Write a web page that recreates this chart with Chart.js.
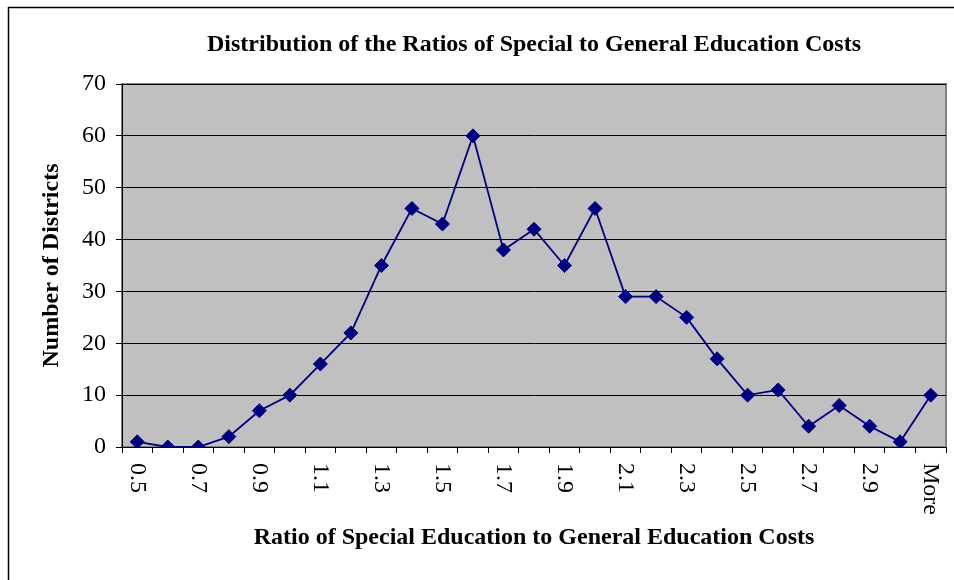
<!DOCTYPE html>
<html>
<head>
<meta charset="utf-8">
<title>Distribution of the Ratios of Special to General Education Costs</title>
<script src="https://cdn.jsdelivr.net/npm/chart.js@4/dist/chart.umd.min.js"></script>
<style>
  html, body { margin: 0; padding: 0; background: #fff; }
  #wrap { width: 954px; height: 580px; }
</style>
</head>
<body>
<div id="wrap"><canvas id="distChart" width="954" height="580"></canvas></div>
<script>
// -------------------------------
// DATA
// -------------------------------
const categories = ["0.5", "0.6", "0.7", "0.8", "0.9", "1.0", "1.1", "1.2", "1.3",
  "1.4", "1.5", "1.6", "1.7", "1.8", "1.9", "2.0", "2.1", "2.2", "2.3", "2.4",
  "2.5", "2.6", "2.7", "2.8", "2.9", "3.0", "More"];
const districtCounts = [1, 0, 0, 2, 7, 10, 16, 22, 35, 46, 43, 60, 38, 42, 35, 46,
  29, 29, 25, 17, 10, 11, 4, 8, 4, 1, 10];
// Excel only labels every other bin
const tickLabels = ["0.5", "", "0.7", "", "0.9", "", "1.1", "", "1.3", "", "1.5", "",
  "1.7", "", "1.9", "", "2.1", "", "2.3", "", "2.5", "", "2.7", "", "2.9", "", "More"];
const yTicks = [0, 10, 20, 30, 40, 50, 60, 70];

const serif = "'Liberation Serif', 'Times New Roman', serif";

// -------------------------------
// PLUGINS
// -------------------------------
// gray plot area + outer frame
const plotFrame = {
  id: "plotFrame",
  beforeDraw(chart) {
    const { ctx, chartArea: a } = chart;
    ctx.save();
    ctx.fillStyle = "#fff";
    ctx.fillRect(0, 0, chart.width, chart.height);
    ctx.strokeStyle = "#000";
    ctx.lineWidth = 1.5;
    ctx.strokeRect(8.5, 7.5, 1000, 1000);
    ctx.fillStyle = "#c0c0c0";
    ctx.fillRect(a.left, a.top, a.right - a.left, a.bottom - a.top);
    ctx.strokeStyle = "#808080";
    ctx.lineWidth = 2;
    ctx.strokeRect(a.left, a.top, a.right - a.left, a.bottom - a.top);
    ctx.restore();
  },
};

// x labels read top-to-bottom like the Excel original
const verticalLabels = {
  id: "verticalLabels",
  afterDraw(chart) {
    const { ctx } = chart;
    const xs = chart.scales.x;
    ctx.save();
    ctx.font = "24px " + serif;
    ctx.fillStyle = "#000";
    ctx.textAlign = "left";
    ctx.textBaseline = "middle";
    tickLabels.forEach((lab, i) => {
      if (!lab) return;
      ctx.save();
      ctx.translate(xs.getPixelForValue(i), xs.top + 16);
      ctx.rotate(Math.PI / 2);
      ctx.fillText(lab, 0, 0);
      ctx.restore();
    });
    ctx.restore();
  },
};

// -------------------------------
// CHART
// -------------------------------
const chart = new Chart(document.getElementById("distChart"), {
  type: "line",
  data: {
    labels: categories,
    datasets: [
      {
        label: "Number of Districts",
        data: districtCounts,
        borderColor: "#000080",
        backgroundColor: "#000080",
        borderWidth: 1.8,
        pointStyle: "rectRot",
        pointRadius: 7,
        pointBorderWidth: 1,
        pointHoverRadius: 7,
        tension: 0,
        fill: false,
      },
    ],
  },
  plugins: [plotFrame, verticalLabels],
  options: {
    responsive: false,
    animation: false,
    devicePixelRatio: 1,
    layout: { padding: { left: 0, right: 7, top: 0, bottom: 0 } },
    plugins: {
      legend: { display: false },
      tooltip: { enabled: false },
      title: {
        display: true,
        fullSize: false,
        text: "Distribution of the Ratios of Special to General Education Costs",
        color: "#000",
        font: { family: serif, size: 24, weight: "bold", lineHeight: 1.2 },
        padding: { top: 30.6, bottom: 24.6 },
      },
    },
    scales: {
      x: {
        offset: true,
        grid: {
          offset: true,
          drawOnChartArea: false,
          drawTicks: true,
          tickLength: 6,
          color: "#000",
        },
        border: { color: "#000", width: 1 },
        ticks: { display: false, autoSkip: false },
        title: {
          display: true,
          text: "Ratio of Special Education to General Education Costs",
          color: "#000",
          font: { family: serif, size: 24, weight: "bold", lineHeight: 1.2 },
          padding: { top: 0, bottom: 27.6 },
        },
        afterFit(scale) { scale.height = 133; },
      },
      y: {
        min: 0,
        max: 70,
        afterBuildTicks(scale) { scale.ticks = yTicks.map(v => ({ value: v })); },
        grid: { color: "#000", lineWidth: 1, tickLength: 6 },
        border: { color: "#000", width: 1 },
        ticks: {
          color: "#000",
          padding: 10,
          font: { family: serif, size: 24 },
        },
        title: {
          display: true,
          text: "Number of Districts",
          color: "#000",
          font: { family: serif, size: 24, weight: "bold", lineHeight: 1.2 },
          padding: { top: 37.6, bottom: 0 },
        },
        afterFit(scale) { scale.width = 122; },
      },
    },
  },
});
</script>
</body>
</html>
